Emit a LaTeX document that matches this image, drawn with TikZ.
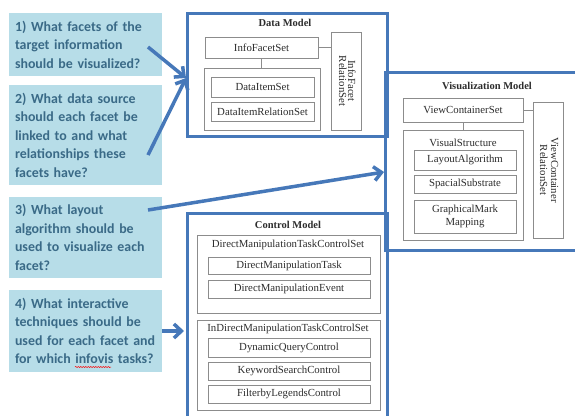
\documentclass[tikz,border=0pt]{standalone}
\usepackage{fontspec}
\usepackage{graphicx}
\setmainfont{Liberation Serif}
\newfontfamily\qfont{Carlito}
\usetikzlibrary{arrows.meta,decorations.pathmorphing}
\definecolor{mblue}{RGB}{70,120,185}
\definecolor{qfill}{RGB}{183,221,232}
\definecolor{qtext}{RGB}{58,106,135}
\definecolor{gline}{RGB}{140,140,140}
\definecolor{gtext}{RGB}{45,45,45}
\tikzset{
  model/.style={draw=mblue, line width=3pt, inner sep=0pt},
  ibox/.style={draw=gline, line width=0.8pt, inner sep=0pt, font=\fontsize{10.8}{12}\selectfont, text=gtext, align=center},
  grp/.style={draw=gline, line width=0.8pt, inner sep=0pt},
  ttl/.style={font=\fontsize{10.5}{12}\selectfont\bfseries, text=gtext, inner sep=0pt},
  lbl/.style={font=\fontsize{10.8}{12}\selectfont, text=gtext, inner sep=0pt},
  conn/.style={draw=gline, line width=0.8pt},
  qbox/.style={fill=qfill, inner sep=0pt, text width=141pt, align=left, minimum width=153pt,
    font=\qfont\bfseries\fontsize{13.9}{18.5}\selectfont, text=qtext},
  qarrow/.style={draw=mblue, line width=3.5pt, -{Straight Barb[length=7.5pt,width=14pt]}},
}
\begin{document}
\begin{tikzpicture}[x=1pt,y=-1pt]
\fill[white] (0,0) rectangle (575,415);
\useasboundingbox (0,0) rectangle (575,415);

% question boxes
\node[qbox, minimum height=63pt] (q1) at (85.5,44.5) {\mbox{1) What facets of the}\\\mbox{target information}\\\mbox{should be visualized?}};
\node[qbox, minimum height=100pt] (q2) at (85.5,135) {\mbox{2) What data source}\\\mbox{should each facet be}\\\mbox{linked to and what}\\\mbox{relationships these}\\\mbox{facets have?}};
\node[qbox, minimum height=81pt] (q3) at (85.5,237.5) {\mbox{3) What layout}\\\mbox{algorithm should be}\\\mbox{used to visualize each}\\\mbox{facet?}};
\node[qbox, minimum height=82pt] (q4) at (85.5,331) {\mbox{4) What interactive}\\\mbox{techniques should be}\\\mbox{used for each facet and}\\\mbox{for which infovis tasks?}};
\draw[red, line width=0.5pt, decorate, decoration={snake, amplitude=0.6pt, segment length=2.5pt}] (75,367) -- (111,367);

% Data Model
\node[model, minimum width=200pt, minimum height=123pt] (dm) at (287,74.5) {};
\node[ttl] (dmt) at (285,23) {Data Model};
\node[ibox, minimum width=113pt, minimum height=21pt] (ifs) at (261.5,47.5) {InfoFacetSet};
\node[grp, minimum width=116pt, minimum height=62pt] (dgrp) at (262,99) {};
\node[ibox, minimum width=103pt, minimum height=20pt] (dis) at (262.5,87) {DataItemSet};
\node[ibox, minimum width=103pt, minimum height=19pt] (dirs) at (262.5,111.5) {DataItemRelationSet};
\node[ibox, minimum width=30pt, minimum height=98pt] (ifrs) at (346,81)
  {\rotatebox{-90}{\begin{tabular}{@{}c@{}}InfoFacet\\[-3pt]RelationSet\end{tabular}}};
\draw[conn] (ifs.south) -- (ifs.south |- dgrp.north);
\draw[conn] (ifs.east) -- (ifs.east -| ifrs.west);

% Visualization Model
\node[model, minimum width=200pt, minimum height=178pt] (vm) at (485,161) {};
\node[ttl] (vmt) at (487,86) {Visualization Model};
\node[ibox, minimum width=120pt, minimum height=24pt] (vcs) at (463,110) {ViewContainerSet};
\node[grp, minimum width=120pt, minimum height=110pt] (vsg) at (463,185) {};
\node[lbl] (vsl) at (463,143) {VisualStructure};
\node[ibox, minimum width=102pt, minimum height=20pt] (la) at (465,160) {LayoutAlgorithm};
\node[ibox, minimum width=102pt, minimum height=18pt] (ss) at (465,184) {SpacialSubstrate};
\node[ibox, minimum width=102pt, minimum height=33pt, font=\fontsize{10.8}{13.5}\selectfont] (gmm) at (465,216.5) {GraphicalMark\\Mapping};
\node[ibox, minimum width=30pt, minimum height=136pt] (vcrs) at (548,170)
  {\rotatebox{-90}{\begin{tabular}{@{}c@{}}ViewContainer\\[-1pt]RelationSet\end{tabular}}};
\draw[conn] (vcs.south) -- (vcs.south |- vsg.north);
\draw[conn] (vcs.east) -- (vcs.east -| vcrs.west);

% Control Model
\node[model, minimum width=200pt, minimum height=204pt] (cm) at (287,315) {};
\node[ttl] (cmt) at (288,225) {Control Model};
\node[grp, minimum width=183pt, minimum height=78pt] (dmg) at (288.5,274) {};
\node[lbl] (dmgl) at (288,245) {DirectManipulationTaskControlSet};
\node[ibox, minimum width=162pt, minimum height=17pt] (dmtk) at (289,265.5) {DirectManipulationTask};
\node[ibox, minimum width=162pt, minimum height=18pt] (dme) at (289,289) {DirectManipulationEvent};
\node[grp, minimum width=183pt, minimum height=90pt] (idg) at (288.5,365) {};
\node[lbl] (idgl) at (288,329) {InDirectManipulationTaskControlSet};
\node[ibox, minimum width=162pt, minimum height=19pt] (dqc) at (289,347.5) {DynamicQueryControl};
\node[ibox, minimum width=162pt, minimum height=18pt] (ksc) at (289,371) {KeywordSearchControl};
\node[ibox, minimum width=162pt, minimum height=18pt] (flc) at (289,394) {FilterbyLegendsControl};

% arrows
\coordinate (a1s) at (148,47);
\coordinate (a2s) at (148,155);
\coordinate (a12e) at (186,78);
\coordinate (a3s) at (148,210);
\coordinate (a3e) at (384,172);
\draw[qarrow] (a1s) -- (a12e);
\draw[qarrow] (a2s) -- (a12e);
\draw[qarrow] (a3s) -- (a3e);
\draw[qarrow] (q4.east) -- ([xshift=-1.5pt]q4.east -| cm.west);
\end{tikzpicture}
\end{document}
